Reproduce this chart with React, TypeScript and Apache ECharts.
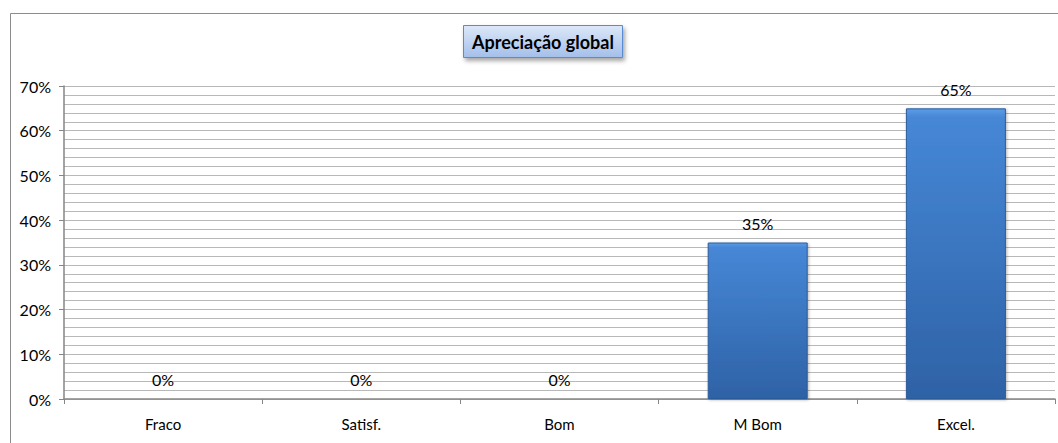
import React, { useEffect, useRef } from "react";
import * as echarts from "echarts";

const categories = ["Fraco", "Satisf.", "Bom", "M Bom", "Excel."];
const values = [0, 0, 0, 35, 65];
const chartTitle = "Apreciação global";
const yMax = 70;
const yInterval = 10;

const FONT = "Lato, 'Open Sans', 'Noto Sans', sans-serif";

export default function App() {
  const ref = useRef<HTMLDivElement>(null);
  useEffect(() => {
    document.body.style.margin = "0";
    const chart = echarts.init(ref.current!, undefined, { renderer: "svg" });
    chart.setOption({
      animation: false,
      backgroundColor: "#ffffff",
      textStyle: { fontFamily: FONT },
      grid: { left: 64, right: 3, top: 86, bottom: 44, containLabel: false },
      graphic: [
        {
          type: "rect",
          shape: { x: 10.5, y: 13.5, width: 1060, height: 440 },
          style: { fill: "none", stroke: "#8c8c8c", lineWidth: 1 },
          silent: true,
        },
        {
          type: "group",
          left: 463,
          top: 25,
          children: [
            {
              type: "rect",
              shape: { x: 0, y: 0, width: 159, height: 32 },
              style: {
                fill: new echarts.graphic.LinearGradient(0, 0, 0, 1, [
                  { offset: 0, color: "#dde8f8" },
                  { offset: 1, color: "#a3bfea" },
                ]),
                stroke: "#5a8ad0",
                lineWidth: 1,
                shadowBlur: 4,
                shadowOffsetX: 2,
                shadowOffsetY: 3,
                shadowColor: "rgba(0,0,0,0.35)",
              },
            },
            {
              type: "text",
              x: 79.5,
              y: 16.5,
              style: {
                text: chartTitle,
                fontFamily: FONT,
                fontWeight: "bold",
                fontSize: 18,
                fill: "#000",
                align: "center",
                verticalAlign: "middle",
              },
            },
          ],
        },
      ],
      xAxis: {
        type: "category",
        data: categories,
        axisLine: { show: true, lineStyle: { color: "#868686", width: 1.5 } },
        axisTick: { show: true, alignWithLabel: false, length: 5, lineStyle: { color: "#868686" } },
        axisLabel: { color: "#000", fontSize: 15, margin: 17, fontFamily: FONT },
        splitLine: { show: false },
      },
      yAxis: {
        type: "value",
        min: 0,
        max: yMax,
        interval: yInterval,
        axisLine: { show: true, lineStyle: { color: "#868686", width: 1.5 } },
        axisTick: { show: true, length: 5, lineStyle: { color: "#868686" } },
        axisLabel: {
          color: "#000",
          fontSize: 16,
          margin: 13,
          fontFamily: FONT,
          formatter: "{value}%",
        },
        splitLine: { show: true, lineStyle: { color: "#b8b8b8", width: 1 } },
        minorTick: { show: false, splitNumber: 5 },
        minorSplitLine: { show: true, lineStyle: { color: "#b8b8b8", width: 1 } },
      },
      series: [
        {
          type: "bar",
          data: values,
          barWidth: 100,
          itemStyle: {
            color: new echarts.graphic.LinearGradient(0, 0, 0, 1, [
              { offset: 0, color: "#5c9ce6" },
              { offset: 0.03, color: "#4687d6" },
              { offset: 1, color: "#2e62a6" },
            ]),
            borderColor: "#2c5c9c",
            borderWidth: 1,
            shadowBlur: 3,
            shadowOffsetX: 1,
            shadowOffsetY: 1,
            shadowColor: "rgba(0,0,0,0.3)",
          },
          label: {
            show: true,
            position: "top",
            distance: 11,
            color: "#000",
            fontSize: 16,
            fontFamily: FONT,
            formatter: "{c}%",
          },
        },
      ],
    });
    return () => chart.dispose();
  }, []);
  return (
    <div
      ref={ref}
      style={{ position: "fixed", left: 0, top: 0, width: 1058, height: 443 }}
    />
  );
}
